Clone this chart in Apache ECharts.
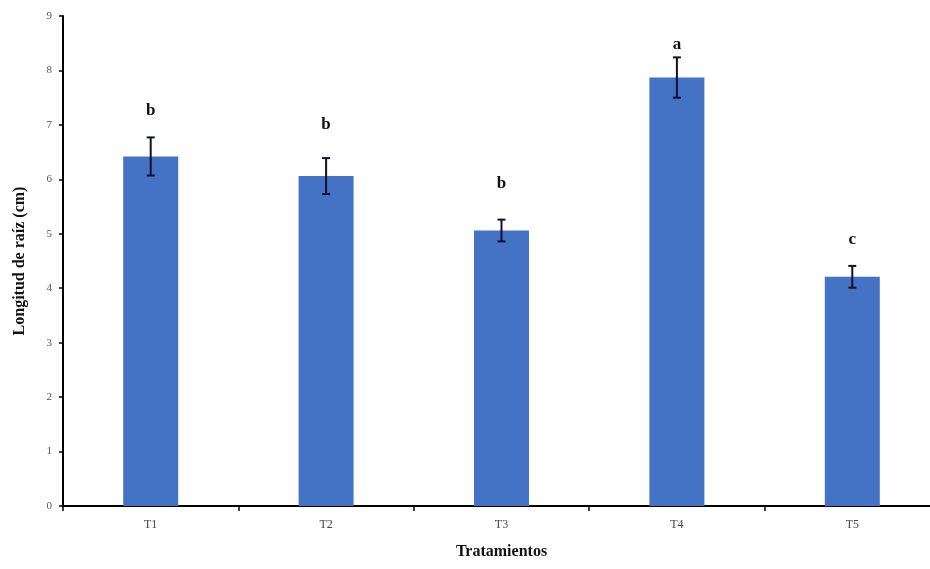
<!DOCTYPE html>
<html>
<head>
<meta charset="utf-8">
<script src="https://cdn.jsdelivr.net/npm/echarts@6/dist/echarts.min.js"></script>
<style>html,body{margin:0;padding:0;background:#fff}#c{width:930px;height:569px}</style>
</head>
<body>
<div id="c"></div>
<script>
const categories = ['T1', 'T2', 'T3', 'T4', 'T5'];
const means = [6.42, 6.06, 5.06, 7.87, 4.21];
const errors = [0.35, 0.33, 0.2, 0.37, 0.2];
const letters = ['b', 'b', 'b', 'a', 'c'];
const letterPos = [7.26, 7.0, 5.93, 8.47, 4.89];
const yTicks = [0, 1, 2, 3, 4, 5, 6, 7, 8, 9];

const chart = echarts.init(document.getElementById('c'));
const serif = 'Liberation Serif';
chart.setOption({
  animation: false,
  backgroundColor: '#fff',
  grid: { left: 63, right: -10, top: 16, bottom: 63, outerBoundsMode: 'none', containLabel: false },
  xAxis: {
    type: 'category',
    data: categories,
    name: 'Tratamientos',
    nameLocation: 'middle',
    nameGap: 38,
    nameTextStyle: { fontFamily: serif, fontWeight: 'bold', fontSize: 16, color: '#111' },
    axisLine: { lineStyle: { color: '#000', width: 2 } },
    axisTick: { show: true, length: 5, lineStyle: { color: '#000', width: 1.5 } },
    axisLabel: { fontFamily: serif, fontSize: 12, color: '#444', margin: 13 }
  },
  yAxis: {
    type: 'value',
    min: yTicks[0],
    max: yTicks[yTicks.length - 1],
    interval: 1,
    name: 'Longitud de raíz (cm)',
    nameLocation: 'middle',
    nameGap: 35,
    nameTextStyle: { fontFamily: serif, fontWeight: 'bold', fontSize: 16, color: '#111' },
    axisLine: { show: true, lineStyle: { color: '#000', width: 2 } },
    axisTick: { show: true, length: 4, lineStyle: { color: '#000', width: 1.5 } },
    axisLabel: { fontFamily: serif, fontSize: 11, color: '#555', margin: 11 },
    splitLine: { show: false }
  },
  series: [
    {
      type: 'bar',
      data: means,
      barWidth: 55,
      itemStyle: { color: '#4472C4' }
    },
    {
      type: 'custom',
      data: categories.map((c, i) => [i, means[i], errors[i], letterPos[i]]),
      renderItem: function (params, api) {
        const i = api.value(0);
        const m = api.value(1);
        const e = api.value(2);
        const lp = api.value(3);
        const hi = api.coord([i, m + e]);
        const lo = api.coord([i, m - e]);
        const lt = api.coord([i, lp]);
        const x = hi[0];
        const cap = 4;
        const st = { stroke: '#101030', lineWidth: 2 };
        return {
          type: 'group',
          children: [
            { type: 'line', shape: { x1: x, y1: hi[1], x2: x, y2: lo[1] }, style: st },
            { type: 'line', shape: { x1: x - cap, y1: hi[1], x2: x + cap, y2: hi[1] }, style: st },
            { type: 'line', shape: { x1: x - cap, y1: lo[1], x2: x + cap, y2: lo[1] }, style: st },
            { type: 'text', style: { x: x, y: lt[1], text: letters[params.dataIndex], textAlign: 'center', textVerticalAlign: 'middle', font: 'bold 17px "Liberation Serif"', fill: '#111' } }
          ]
        };
      },
      z: 10
    }
  ]
});
</script>
</body>
</html>
